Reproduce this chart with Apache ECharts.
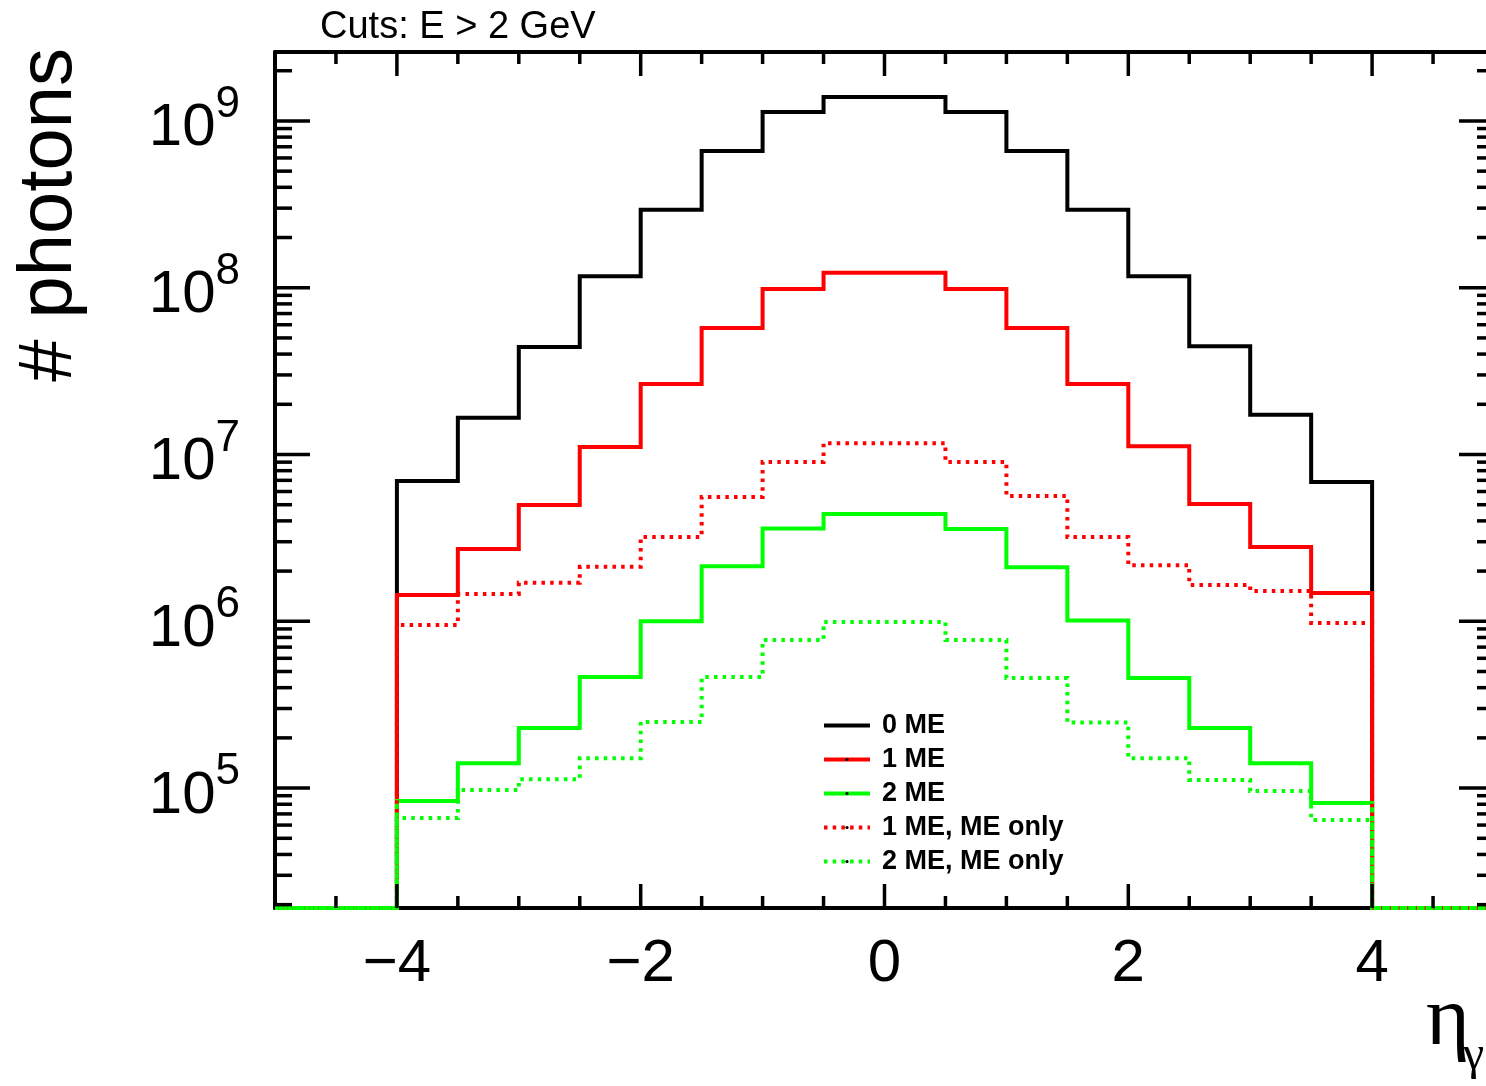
<!DOCTYPE html>
<html>
<head>
<meta charset="utf-8">
<script src="https://cdn.jsdelivr.net/npm/echarts@6/dist/echarts.min.js"></script>
<style>
html, body { margin: 0; padding: 0; background: #fff; }
#chart { width: 1486px; height: 1086px; }
</style>
</head>
<body>
<div id="chart"></div>
<script>
// lower bin edges, bin width 0.5
var binLow = [-5, -4.5, -4, -3.5, -3, -2.5, -2, -1.5, -1, -0.5, 0, 0.5, 1, 1.5, 2, 2.5, 3, 3.5, 4, 4.5];
var binWidth = 0.5;

var me0 = [0, 0, 6.94e6, 1.66e7, 4.41e7, 1.17e8, 2.93e8, 6.61e8, 1.13e9, 1.39e9,
           1.39e9, 1.13e9, 6.61e8, 2.93e8, 1.17e8, 4.45e7, 1.73e7, 6.84e6, 0, 0];
var me1 = [0, 0, 1.44e6, 2.71e6, 4.98e6, 1.11e7, 2.65e7, 5.74e7, 9.83e7, 1.23e8,
           1.23e8, 9.83e7, 5.74e7, 2.65e7, 1.12e7, 5.05e6, 2.79e6, 1.48e6, 0, 0];
var me2 = [0, 0, 8.36e4, 1.41e5, 2.29e5, 4.63e5, 1.0e6, 2.14e6, 3.6e6, 4.4e6,
           4.4e6, 3.57e6, 2.11e6, 1.01e6, 4.57e5, 2.29e5, 1.41e5, 8.13e4, 0, 0];
var me1Only = [0, 0, 9.5e5, 1.46e6, 1.7e6, 2.12e6, 3.2e6, 5.56e6, 9.02e6, 1.17e7,
               1.17e7, 9.02e6, 5.64e6, 3.2e6, 2.17e6, 1.65e6, 1.52e6, 9.76e5, 0, 0];
var me2Only = [0, 0, 6.61e4, 9.73e4, 1.13e5, 1.51e5, 2.49e5, 4.63e5, 7.72e5, 9.9e5,
               9.9e5, 7.72e5, 4.57e5, 2.47e5, 1.51e5, 1.12e5, 9.6e4, 6.43e4, 0, 0];

var seriesNames = ['0 ME', '1 ME', '2 ME', '1 ME, ME only', '2 ME, ME only'];

var yMin = 1.91e4, yMax = 2.59e9;
var xMajorTicks = [-4, -2, 0, 2, 4];
var xMinorTicks = [-4.5, -3.5, -3, -2.5, -1.5, -1, -0.5, 0.5, 1, 1.5, 2.5, 3, 3.5, 4.5];
var yMajorTicks = [1e5, 1e6, 1e7, 1e8, 1e9];
var yMinorTicks = [];
for (var d = 1e4; d <= 1e9; d *= 10) {
    for (var m = 2; m <= 9; m++) {
        var t = m * d;
        if (t > yMin && t < yMax) yMinorTicks.push(t);
    }
}

var FONT = 'Liberation Sans';

// histogram outline: step line over bin edges, empty bins sit on the axis floor
function histPoints(vals) {
    var pts = binLow.map(function (x, i) {
        return [x, vals[i] > 0 ? vals[i] : yMin];
    });
    var last = vals[vals.length - 1];
    pts.push([binLow[binLow.length - 1] + binWidth, last > 0 ? last : yMin]);
    return pts;
}

function histSeries(name, vals, color, dotted) {
    return {
        name: name,
        type: 'line',
        step: 'end',
        symbol: 'none',
        clip: false,
        data: histPoints(vals),
        lineStyle: {
            color: color,
            width: 4,
            type: dotted ? [3.5, 5.2] : 'solid',
            cap: 'butt',
            join: 'miter'
        },
        itemStyle: { color: color },
        z: 3
    };
}

function renderXTick(params, api) {
    var cs = params.coordSys;
    var px = api.coord([api.value(0), yMin])[0];
    var len = api.value(2);
    var st = { stroke: '#000', lineWidth: 3.5 };
    return {
        type: 'group',
        children: [
            { type: 'line', shape: { x1: px, y1: cs.y + cs.height, x2: px, y2: cs.y + cs.height - len }, style: st },
            { type: 'line', shape: { x1: px, y1: cs.y, x2: px, y2: cs.y + len }, style: st }
        ]
    };
}

function renderYTick(params, api) {
    var cs = params.coordSys;
    var py = api.coord([-5, api.value(1)])[1];
    var len = api.value(2);
    var st = { stroke: '#000', lineWidth: 3.5 };
    return {
        type: 'group',
        children: [
            { type: 'line', shape: { x1: cs.x, y1: py, x2: cs.x + len, y2: py }, style: st },
            { type: 'line', shape: { x1: cs.x + cs.width, y1: py, x2: cs.x + cs.width - len, y2: py }, style: st }
        ]
    };
}

var xTickData = xMajorTicks.map(function (v) { return [v, 1e6, 24]; })
    .concat(xMinorTicks.map(function (v) { return [v, 1e6, 12]; }));
var yTickData = yMajorTicks.map(function (v) { return [0, v, 35]; })
    .concat(yMinorTicks.map(function (v) { return [0, v, 17]; }));

var frameLine = { show: true, onZero: false, lineStyle: { color: '#000', width: 4 } };

var myChart = echarts.init(document.getElementById('chart'));
var option = {
    animation: false,
    backgroundColor: '#fff',
    title: {
        text: 'Cuts: E > 2 GeV',
        left: 320,
        top: 9,
        padding: 0,
        textStyle: { fontFamily: FONT, fontSize: 38, fontWeight: 'normal', color: '#000' }
    },
    legend: {
        data: seriesNames,
        orient: 'vertical',
        left: 822,
        top: 712,
        padding: 0,
        itemWidth: 46,
        itemHeight: 4,
        itemGap: 7,
        selectedMode: false,
        itemStyle: { color: '#000', borderWidth: 0 },
        lineStyle: { width: 4 },
        textStyle: {
            fontFamily: FONT,
            fontSize: 27,
            fontWeight: 'bold',
            color: '#000',
            lineHeight: 27,
            padding: [0, 0, 0, 7]
        }
    },
    grid: { left: 275, top: 52, width: 1219, height: 856, containLabel: false, outerBoundsMode: 'none' },
    xAxis: [{
        type: 'value',
        min: -5,
        max: 5,
        interval: 1,
        axisLine: frameLine,
        axisTick: { show: false },
        splitLine: { show: false },
        axisLabel: {
            margin: 26,
            fontFamily: FONT,
            fontSize: 60,
            color: '#000',
            formatter: function (v) {
                if (v % 2 !== 0) return '';
                return v < 0 ? '\u2212' + Math.abs(v) : String(v);
            }
        }
    }, {
        type: 'value',
        position: 'top',
        min: -5,
        max: 5,
        axisLine: frameLine,
        axisTick: { show: false },
        axisLabel: { show: false },
        splitLine: { show: false }
    }],
    yAxis: [{
        type: 'log',
        logBase: 10,
        min: yMin,
        max: yMax,
        axisLine: frameLine,
        axisTick: { show: false },
        splitLine: { show: false },
        minorTick: { show: false },
        axisLabel: {
            margin: 35,
            formatter: function (v) {
                var l = Math.log10(v);
                var e = Math.round(l);
                if (Math.abs(l - e) > 1e-6) return '';
                return '{b|10}{s|' + e + '}';
            },
            rich: {
                b: { fontFamily: FONT, fontSize: 60, lineHeight: 76, verticalAlign: 'bottom', color: '#000' },
                s: { fontFamily: FONT, fontSize: 44, lineHeight: 44, verticalAlign: 'top', color: '#000' }
            }
        }
    }, {
        type: 'log',
        position: 'right',
        min: yMin,
        max: yMax,
        axisLine: frameLine,
        axisTick: { show: false },
        axisLabel: { show: false },
        splitLine: { show: false }
    }],
    graphic: [
        {
            type: 'text',
            x: 50,
            y: 48,
            rotation: Math.PI / 2,
            style: {
                text: '# photons',
                fontFamily: FONT,
                fontSize: 76,
                fill: '#000',
                align: 'right',
                verticalAlign: 'middle'
            }
        },
        {
            type: 'text',
            x: 1426,
            y: 1022,
            style: {
                text: '\u03b7',
                fontFamily: 'Liberation Serif',
                fontSize: 84,
                fill: '#000',
                align: 'left',
                verticalAlign: 'middle'
            }
        },
        {
            type: 'text',
            x: 1463,
            y: 1056,
            style: {
                text: '\u03b3',
                fontFamily: 'Liberation Serif',
                fontSize: 48,
                fill: '#000',
                align: 'left',
                verticalAlign: 'middle'
            }
        }
    ],
    series: [
        histSeries(seriesNames[0], me0, '#000000', false),
        histSeries(seriesNames[1], me1, '#ff0000', false),
        histSeries(seriesNames[2], me2, '#00ff00', false),
        histSeries(seriesNames[3], me1Only, '#ff0000', true),
        histSeries(seriesNames[4], me2Only, '#00ff00', true),
        {
            type: 'custom',
            renderItem: renderXTick,
            data: xTickData,
            silent: true,
            z: 10
        },
        {
            type: 'custom',
            renderItem: renderYTick,
            data: yTickData,
            silent: true,
            z: 10
        }
    ]
};
myChart.setOption(option);
</script>
</body>
</html>
